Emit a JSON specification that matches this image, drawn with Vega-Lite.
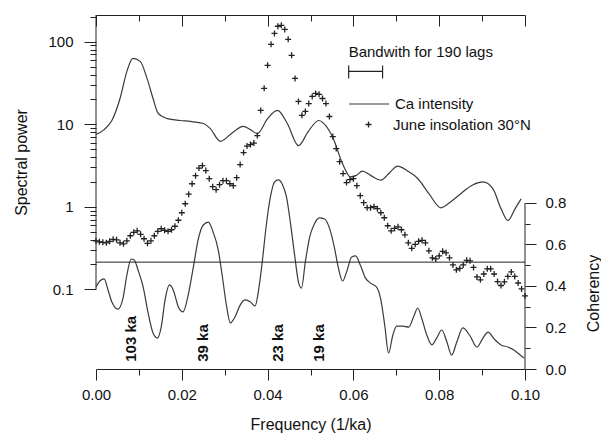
{
  "$schema": "https://vega.github.io/schema/vega-lite/v6.json",
  "width": 429,
  "height": 354,
  "autosize": {"type": "none"},
  "padding": {"left": 96, "top": 15, "right": 76, "bottom": 72},
  "config": {
    "font": "Liberation Sans",
    "view": {"stroke": null},
    "axis": {"grid": false, "ticks": true, "labelFont": "Liberation Sans", "labelFontSize": 15, "labelColor": "#111", "titleFont": "Liberation Sans", "titleFontSize": 16, "titleFontWeight": "normal", "titleColor": "#111", "domainColor": "#222", "tickColor": "#222", "domainWidth": 1, "tickWidth": 1},
    "legend": {"labelFont": "Liberation Sans", "labelFontSize": 15, "labelColor": "#111"}
  },
  "datasets": {
    "ca": [
      {"f": 0, "p": 7.5}, {"f": 0.0019, "p": 8.6}, {"f": 0.0037, "p": 11.1}, {"f": 0.0056, "p": 20.5}, {"f": 0.0072, "p": 43.7}, {"f": 0.0086, "p": 62.9}, {"f": 0.0103, "p": 57.8}, {"f": 0.0119, "p": 35.9}, {"f": 0.0133, "p": 20.5}, {"f": 0.0145, "p": 13.5}, {"f": 0.0166, "p": 11.7}, {"f": 0.0196, "p": 11.1}, {"f": 0.022, "p": 10.8}, {"f": 0.025, "p": 10.2}, {"f": 0.0266, "p": 8.9}, {"f": 0.029, "p": 6.2}, {"f": 0.0318, "p": 7.9}, {"f": 0.0343, "p": 9.4}, {"f": 0.036, "p": 8.6}, {"f": 0.0376, "p": 7.7}, {"f": 0.04, "p": 11.7}, {"f": 0.0423, "p": 14.7}, {"f": 0.0446, "p": 10.2}, {"f": 0.0472, "p": 5.5}, {"f": 0.0495, "p": 8.2}, {"f": 0.0519, "p": 11.1}, {"f": 0.0537, "p": 9.4}, {"f": 0.0551, "p": 7.1}, {"f": 0.0575, "p": 3.3}, {"f": 0.0593, "p": 2.3}, {"f": 0.0607, "p": 2.4}, {"f": 0.0621, "p": 2.7}, {"f": 0.064, "p": 2.4}, {"f": 0.0664, "p": 2.1}, {"f": 0.0685, "p": 2.6}, {"f": 0.0703, "p": 3.1}, {"f": 0.0727, "p": 2.7}, {"f": 0.075, "p": 2.2}, {"f": 0.0776, "p": 1.44}, {"f": 0.0804, "p": 0.97}, {"f": 0.0827, "p": 1.15}, {"f": 0.085, "p": 1.44}, {"f": 0.0879, "p": 1.85}, {"f": 0.0902, "p": 2.0}, {"f": 0.0925, "p": 1.66}, {"f": 0.0944, "p": 0.95}, {"f": 0.096, "p": 0.68}, {"f": 0.0977, "p": 0.95}, {"f": 0.0991, "p": 1.25}
    ],
    "ins": [
      {"f": 0, "p": 0.386}, {"f": 0.0008, "p": 0.376}, {"f": 0.0016, "p": 0.37}, {"f": 0.0024, "p": 0.365}, {"f": 0.0032, "p": 0.381}, {"f": 0.004, "p": 0.403}, {"f": 0.0048, "p": 0.397}, {"f": 0.0056, "p": 0.365}, {"f": 0.0064, "p": 0.355}, {"f": 0.0072, "p": 0.386},
      {"f": 0.008, "p": 0.445}, {"f": 0.0088, "p": 0.49}, {"f": 0.0096, "p": 0.511}, {"f": 0.0104, "p": 0.463}, {"f": 0.0112, "p": 0.409}, {"f": 0.012, "p": 0.36}, {"f": 0.0128, "p": 0.386}, {"f": 0.0136, "p": 0.445}, {"f": 0.0144, "p": 0.504}, {"f": 0.0152, "p": 0.541},
      {"f": 0.016, "p": 0.518}, {"f": 0.0168, "p": 0.504}, {"f": 0.0176, "p": 0.526}, {"f": 0.0184, "p": 0.58}, {"f": 0.0192, "p": 0.686}, {"f": 0.02, "p": 0.846}, {"f": 0.0208, "p": 1.087}, {"f": 0.0216, "p": 1.419}, {"f": 0.0224, "p": 1.9}, {"f": 0.0232, "p": 2.38},
      {"f": 0.024, "p": 2.94}, {"f": 0.0248, "p": 3.15}, {"f": 0.0256, "p": 2.74}, {"f": 0.0264, "p": 2.19}, {"f": 0.0272, "p": 1.75}, {"f": 0.028, "p": 1.61}, {"f": 0.0288, "p": 1.85}, {"f": 0.0296, "p": 2.07}, {"f": 0.0304, "p": 2.07}, {"f": 0.0312, "p": 1.9},
      {"f": 0.032, "p": 1.8}, {"f": 0.0328, "p": 2.25}, {"f": 0.0336, "p": 3.24}, {"f": 0.0344, "p": 4.53}, {"f": 0.0352, "p": 5.43}, {"f": 0.036, "p": 5.66}, {"f": 0.0368, "p": 5.91}, {"f": 0.0376, "p": 7.29}, {"f": 0.0384, "p": 14.7}, {"f": 0.0392, "p": 27.2},
      {"f": 0.04, "p": 51.7}, {"f": 0.0408, "p": 93}, {"f": 0.0416, "p": 126}, {"f": 0.0424, "p": 154}, {"f": 0.0432, "p": 158}, {"f": 0.044, "p": 141}, {"f": 0.0448, "p": 107}, {"f": 0.0456, "p": 68.4}, {"f": 0.0464, "p": 35.9}, {"f": 0.0472, "p": 18.9},
      {"f": 0.048, "p": 12.8}, {"f": 0.0488, "p": 14.3}, {"f": 0.0496, "p": 17.8}, {"f": 0.0504, "p": 21.7}, {"f": 0.0512, "p": 23.6}, {"f": 0.052, "p": 23.0}, {"f": 0.0528, "p": 20.5}, {"f": 0.0536, "p": 17.8}, {"f": 0.0544, "p": 12.4}, {"f": 0.0552, "p": 7.09},
      {"f": 0.056, "p": 5.07}, {"f": 0.0568, "p": 3.52}, {"f": 0.0576, "p": 2.52}, {"f": 0.0584, "p": 1.96}, {"f": 0.0592, "p": 2.13}, {"f": 0.06, "p": 2.19}, {"f": 0.0608, "p": 1.8}, {"f": 0.0616, "p": 1.36}, {"f": 0.0624, "p": 1.12}, {"f": 0.0632, "p": 0.973},
      {"f": 0.064, "p": 0.973}, {"f": 0.0648, "p": 1.0}, {"f": 0.0656, "p": 0.946}, {"f": 0.0664, "p": 0.846}, {"f": 0.0672, "p": 0.735}, {"f": 0.068, "p": 0.588}, {"f": 0.0688, "p": 0.511}, {"f": 0.0696, "p": 0.548}, {"f": 0.0704, "p": 0.571}, {"f": 0.0712, "p": 0.526},
      {"f": 0.072, "p": 0.457}, {"f": 0.0728, "p": 0.365}, {"f": 0.0736, "p": 0.313}, {"f": 0.0744, "p": 0.35}, {"f": 0.0752, "p": 0.381}, {"f": 0.076, "p": 0.392}, {"f": 0.0768, "p": 0.365}, {"f": 0.0776, "p": 0.292}, {"f": 0.0784, "p": 0.24}, {"f": 0.0792, "p": 0.233},
      {"f": 0.08, "p": 0.254}, {"f": 0.0808, "p": 0.288}, {"f": 0.0816, "p": 0.276}, {"f": 0.0824, "p": 0.24}, {"f": 0.0832, "p": 0.197}, {"f": 0.084, "p": 0.172}, {"f": 0.0848, "p": 0.179}, {"f": 0.0856, "p": 0.197}, {"f": 0.0864, "p": 0.224}, {"f": 0.0872, "p": 0.221},
      {"f": 0.088, "p": 0.184}, {"f": 0.0888, "p": 0.141}, {"f": 0.0896, "p": 0.13}, {"f": 0.0904, "p": 0.153}, {"f": 0.0912, "p": 0.177}, {"f": 0.092, "p": 0.177}, {"f": 0.0928, "p": 0.153}, {"f": 0.0936, "p": 0.124}, {"f": 0.0944, "p": 0.111}, {"f": 0.0952, "p": 0.123},
      {"f": 0.096, "p": 0.143}, {"f": 0.0968, "p": 0.162}, {"f": 0.0976, "p": 0.143}, {"f": 0.0984, "p": 0.119}, {"f": 0.0992, "p": 0.101}, {"f": 0.1, "p": 0.083}
    ],
    "coh": [
      {"f": 0, "c": 0.395}, {"f": 0.0009, "c": 0.424}, {"f": 0.0019, "c": 0.434}, {"f": 0.0028, "c": 0.381}, {"f": 0.0037, "c": 0.323}, {"f": 0.0051, "c": 0.289}, {"f": 0.0063, "c": 0.342}, {"f": 0.0072, "c": 0.453}, {"f": 0.0082, "c": 0.53}, {"f": 0.0089, "c": 0.525},
      {"f": 0.0098, "c": 0.477}, {"f": 0.011, "c": 0.395}, {"f": 0.0121, "c": 0.275}, {"f": 0.0133, "c": 0.173}, {"f": 0.0143, "c": 0.149}, {"f": 0.0152, "c": 0.202}, {"f": 0.0161, "c": 0.333}, {"f": 0.0171, "c": 0.405}, {"f": 0.018, "c": 0.381}, {"f": 0.0192, "c": 0.299},
      {"f": 0.0203, "c": 0.275}, {"f": 0.0215, "c": 0.357}, {"f": 0.0227, "c": 0.492}, {"f": 0.0238, "c": 0.622}, {"f": 0.025, "c": 0.694}, {"f": 0.0262, "c": 0.708}, {"f": 0.0273, "c": 0.66}, {"f": 0.0285, "c": 0.573}, {"f": 0.0294, "c": 0.453}, {"f": 0.0304, "c": 0.308},
      {"f": 0.0313, "c": 0.222}, {"f": 0.0325, "c": 0.255}, {"f": 0.0336, "c": 0.308}, {"f": 0.0348, "c": 0.333}, {"f": 0.036, "c": 0.323}, {"f": 0.0371, "c": 0.304}, {"f": 0.0379, "c": 0.381}, {"f": 0.0388, "c": 0.525}, {"f": 0.0397, "c": 0.694}, {"f": 0.0407, "c": 0.834},
      {"f": 0.0416, "c": 0.901}, {"f": 0.0425, "c": 0.911}, {"f": 0.0435, "c": 0.887}, {"f": 0.0444, "c": 0.829}, {"f": 0.0453, "c": 0.708}, {"f": 0.0463, "c": 0.549}, {"f": 0.0472, "c": 0.419}, {"f": 0.0479, "c": 0.39}, {"f": 0.0488, "c": 0.516}, {"f": 0.0498, "c": 0.636},
      {"f": 0.0509, "c": 0.699}, {"f": 0.0521, "c": 0.728}, {"f": 0.0533, "c": 0.723}, {"f": 0.0544, "c": 0.68}, {"f": 0.0556, "c": 0.583}, {"f": 0.0565, "c": 0.487}, {"f": 0.0575, "c": 0.424}, {"f": 0.0584, "c": 0.467}, {"f": 0.0596, "c": 0.54}, {"f": 0.0605, "c": 0.545},
      {"f": 0.0617, "c": 0.496}, {"f": 0.0628, "c": 0.439}, {"f": 0.064, "c": 0.414}, {"f": 0.0654, "c": 0.395}, {"f": 0.0664, "c": 0.333}, {"f": 0.0673, "c": 0.212}, {"f": 0.0682, "c": 0.077}, {"f": 0.0692, "c": 0.164}, {"f": 0.0701, "c": 0.207}, {"f": 0.0715, "c": 0.207},
      {"f": 0.0729, "c": 0.202}, {"f": 0.0741, "c": 0.255}, {"f": 0.075, "c": 0.294}, {"f": 0.0759, "c": 0.246}, {"f": 0.0771, "c": 0.164}, {"f": 0.0783, "c": 0.116}, {"f": 0.0794, "c": 0.149}, {"f": 0.0806, "c": 0.188}, {"f": 0.0818, "c": 0.13}, {"f": 0.0829, "c": 0.067},
      {"f": 0.0841, "c": 0.13}, {"f": 0.0855, "c": 0.198}, {"f": 0.0872, "c": 0.159}, {"f": 0.0888, "c": 0.106}, {"f": 0.0902, "c": 0.149}, {"f": 0.0914, "c": 0.178}, {"f": 0.0928, "c": 0.145}, {"f": 0.0944, "c": 0.116}, {"f": 0.096, "c": 0.106}, {"f": 0.0974, "c": 0.092},
      {"f": 0.0986, "c": 0.072}, {"f": 0.0998, "c": 0.053}
    ],
    "periods": [
      {"f": 0.0082, "label": "103 ka"}, {"f": 0.025, "label": "39 ka"}, {"f": 0.0425, "label": "23 ka"}, {"f": 0.0519, "label": "19 ka"}
    ]
  },
  "layer": [
    {
      "layer": [
        {
          "data": {"name": "ca"},
          "mark": {"type": "line", "strokeWidth": 1.2, "interpolate": "monotone"},
          "encoding": {
            "x": {"field": "f", "type": "quantitative", "scale": {"domain": [0, 0.1], "nice": false, "zero": false},
              "axis": {"orient": "bottom", "title": "Frequency (1/ka)", "values": [0, 0.02, 0.04, 0.06, 0.08, 0.1], "format": ".2f",
                "tickSize": 11, "labelPadding": 7, "titlePadding": 14, "labelFlush": false, "labelOverlap": false}},
            "y": {"field": "p", "type": "quantitative", "scale": {"type": "log", "domain": [0.0108, 210.7], "nice": false},
              "axis": {"orient": "left", "title": "Spectral power", "domain": false, "titleAngle": 270, "titleX": -75, "titleY": 147, "titleAlign": "center", "titleBaseline": "middle",
                "values": [0.1, 1, 10, 100], "labelExpr": "datum.value + ''",
                "tickSize": 12, "labelPadding": 11, "labelOverlap": false, "labelFlush": false}},
            "color": {"datum": "Ca intensity", "type": "nominal", "scale": {"range": ["#3a3a3a"]},
              "legend": {"orient": "none", "legendX": 252, "legendY": 68, "title": null, "symbolType": "stroke", "symbolSize": 1600, "symbolStrokeWidth": 1.2, "labelOffset": 5, "padding": 0}}
          }
        },
        {
          "data": {"name": "ins"},
          "mark": {"type": "point", "filled": false, "strokeWidth": 1.3, "color": "#222", "size": 36, "opacity": 1},
          "encoding": {
            "x": {"field": "f", "type": "quantitative", "axis": null},
            "y": {"field": "p", "type": "quantitative", "axis": null},
            "shape": {"datum": "June insolation 30°N", "type": "nominal", "scale": {"range": ["M-1,0L1,0M0,-1L0,1"]},
              "legend": {"orient": "none", "legendX": 265, "legendY": 102, "title": null, "symbolSize": 36, "symbolStrokeWidth": 1.3, "symbolStrokeColor": "#222", "symbolFillColor": "transparent", "labelOffset": 17, "padding": 0}}
          }
        },
        {
          "data": {"values": [{}]},
          "mark": {"type": "text", "align": "left", "baseline": "middle", "fontSize": 15, "color": "#111", "text": "Bandwith for 190 lags"},
          "encoding": {"x": {"datum": 0.0589, "type": "quantitative", "axis": null}, "y": {"datum": 74, "type": "quantitative", "axis": null}}
        },
        {
          "data": {"values": [{}]},
          "mark": {"type": "rule", "color": "#222", "strokeWidth": 1.2},
          "encoding": {"x": {"datum": 0.0589, "type": "quantitative", "axis": null}, "x2": {"datum": 0.0668}, "y": {"datum": 43.6, "type": "quantitative", "axis": null}}
        },
        {
          "data": {"values": [{"e": 0.0589}, {"e": 0.0668}]},
          "mark": {"type": "rule", "color": "#222", "strokeWidth": 1.2},
          "encoding": {"x": {"field": "e", "type": "quantitative", "axis": null}, "y": {"datum": 35.9, "type": "quantitative", "axis": null}, "y2": {"datum": 51.5}}
        },
        {
          "data": {"values": [{}]},
          "mark": {"type": "rule", "color": "#222", "strokeWidth": 1},
          "encoding": {
            "x": {"datum": 0, "type": "quantitative",
              "axis": {"orient": "bottom", "title": null, "labels": false, "domain": false, "values": [0.01, 0.03, 0.05, 0.07, 0.09], "tickSize": 6}},
            "y": {"datum": 0.1, "type": "quantitative",
              "axis": {"orient": "left", "title": null, "labels": false, "domain": false, "tickSize": 6,
                "values": [0.2, 0.3, 0.4, 0.5, 0.6, 0.7, 0.8, 0.9, 2, 3, 4, 5, 6, 7, 8, 9, 20, 30, 40, 50, 60, 70, 80, 90, 200]}},
            "y2": {"datum": 210.7}
          }
        }
      ],
      "resolve": {"axis": {"x": "independent", "y": "independent"}}
    },
    {
      "layer": [
        {
          "data": {"name": "coh"},
          "mark": {"type": "line", "color": "#3a3a3a", "strokeWidth": 1.2, "interpolate": "monotone"},
          "encoding": {
            "x": {"field": "f", "type": "quantitative", "scale": {"domain": [0, 0.1], "nice": false, "zero": false},
              "axis": {"orient": "top", "title": null, "labels": false, "values": [0, 0.02, 0.04, 0.06, 0.08, 0.1], "tickSize": -11}},
            "y": {"field": "c", "type": "quantitative", "scale": {"domain": [0, 1.706], "nice": false, "zero": false},
              "axis": {"orient": "right", "title": "Coherency", "domain": false, "titleAngle": 270, "titleX": 68, "titleY": 278, "titleAlign": "center", "titleBaseline": "middle",
                "values": [0, 0.2, 0.4, 0.6, 0.8], "format": ".1f",
                "tickSize": 11, "labelPadding": 9, "labelOverlap": false, "labelFlush": false}}
          }
        },
        {
          "data": {"values": [{}]},
          "mark": {"type": "rule", "color": "#222", "strokeWidth": 1},
          "encoding": {"y": {"datum": 0.515, "type": "quantitative", "axis": null}}
        },
        {
          "data": {"values": [{}]},
          "mark": {"type": "rule", "color": "#222", "strokeWidth": 1},
          "encoding": {
            "x": {"datum": 0.1, "type": "quantitative",
              "axis": {"orient": "top", "title": null, "labels": false, "domain": false, "values": [0.01, 0.03, 0.05, 0.07, 0.09], "tickSize": -6}},
            "y": {"datum": 0, "type": "quantitative",
              "axis": {"orient": "right", "title": null, "labels": false, "domain": false, "values": [0.1, 0.3, 0.5, 0.7], "tickSize": 5}},
            "y2": {"datum": 0.8}
          }
        },
        {
          "data": {"name": "periods"},
          "mark": {"type": "text", "angle": 270, "align": "left", "baseline": "middle", "fontSize": 15, "fontWeight": "bold", "color": "#111"},
          "encoding": {"x": {"field": "f", "type": "quantitative", "axis": null}, "y": {"datum": 0.035, "type": "quantitative", "axis": null}, "text": {"field": "label"}}
        }
      ],
      "resolve": {"axis": {"x": "independent", "y": "independent"}}
    }
  ],
  "resolve": {"scale": {"y": "independent"}, "axis": {"x": "independent", "y": "independent"}}
}
